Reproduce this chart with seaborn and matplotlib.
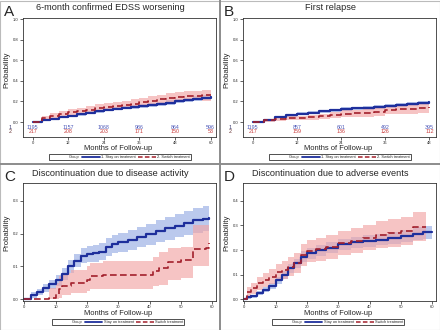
import numpy as np
import pandas as pd
import matplotlib
matplotlib.use("Agg")
import matplotlib.pyplot as plt
from matplotlib.lines import Line2D
import seaborn as sns

sns.set_style("white")
plt.rcParams['font.family'] = ['Liberation Sans', 'DejaVu Sans']

# ---------------- data ----------------
titles = ["6-month confirmed EDSS worsening", "First relapse",
          "Discontinuation due to disease activity", "Discontinuation due to adverse events"]
panel_letters = ["A", "B", "C", "D"]

# Panel A
t_a = [0, 3, 6, 9, 12, 15, 18, 21, 24, 27, 30, 33, 36, 39, 42, 45, 48, 51, 54, 57, 60]
a_stay = [0, .015, .03, .045, .062, .075, .09, .105, .118, .128, .138, .148, .158, .168, .178, .19, .203, .215, .228, .236, .24]
a_stay_lo = [0, .008, .021, .035, .051, .063, .077, .091, .104, .113, .122, .131, .140, .149, .158, .169, .181, .192, .204, .211, .214]
a_stay_hi = [0, .022, .039, .055, .073, .087, .103, .119, .132, .143, .154, .165, .176, .187, .198, .211, .225, .238, .252, .261, .266]
a_switch = [0, .035, .06, .08, .095, .105, .12, .135, .148, .158, .168, .18, .195, .208, .222, .232, .242, .25, .258, .26, .262]
a_switch_lo = [0, .012, .033, .05, .063, .072, .085, .099, .11, .119, .128, .139, .152, .164, .177, .186, .195, .202, .21, .208, .205]
a_switch_hi = [0, .058, .087, .11, .127, .138, .155, .171, .186, .197, .208, .221, .238, .252, .267, .278, .289, .298, .306, .312, .319]
a_risk_times = [0, 12, 24, 36, 48, 60]
a_risk_stay = ["1195", "1157", "1068", "986", "864", "596"]
a_risk_switch = ["217", "208", "203", "171", "150", "53"]

# Panel B
t_b = [0, 3, 6, 9, 12, 15, 18, 21, 24, 27, 30, 33, 36, 39, 42, 45, 48]
b_stay = [0, .02, .045, .065, .08, .092, .105, .115, .125, .132, .138, .145, .155, .165, .175, .185, .195]
b_stay_lo = [0, .012, .035, .053, .067, .078, .09, .099, .108, .114, .119, .125, .134, .143, .152, .161, .17]
b_stay_hi = [0, .028, .055, .077, .093, .106, .12, .131, .142, .15, .157, .165, .176, .187, .198, .209, .22]
b_switch = [0, .015, .03, .035, .04, .045, .055, .065, .08, .085, .09, .1, .12, .125, .13, .14, .145]
b_switch_lo = [0, .002, .012, .015, .018, .021, .028, .035, .047, .05, .053, .06, .076, .079, .082, .09, .093]
b_switch_hi = [0, .028, .048, .055, .062, .069, .082, .095, .113, .12, .127, .14, .164, .171, .178, .19, .197]
b_risk_times = [0, 12, 24, 36, 48]
b_risk_stay = ["1195", "857", "601", "492", "395"]
b_risk_switch = ["217", "159", "136", "126", "112"]

# Panel C
t_c = [0, 2, 4, 6, 8, 10, 12, 14, 16, 18, 20, 22, 24, 26, 28, 30, 33, 36, 39, 42, 45, 48, 51, 54, 57, 59]
c_stay = [0, .013, .022, .035, .046, .058, .078, .10, .118, .133, .138, .14, .145, .16, .168, .174, .18, .19, .198, .208, .216, .224, .232, .24, .245, .247]
c_stay_lo = [0, .005, .012, .023, .032, .042, .06, .08, .097, .11, .114, .115, .119, .133, .14, .145, .15, .159, .166, .175, .182, .189, .196, .203, .207, .208]
c_stay_hi = [0, .021, .032, .047, .06, .074, .096, .12, .139, .156, .162, .165, .171, .187, .196, .203, .21, .221, .23, .241, .25, .259, .268, .277, .283, .286]
t_c_sw = [0, 8, 10, 11, 12, 15, 20, 21, 25, 40, 41, 43, 46, 50, 54, 58, 59]
c_switch = [0, .005, .015, .03, .04, .05, .06, .07, .075, .075, .085, .095, .113, .12, .152, .155, .17]
c_switch_lo = [0, 0, 0, .005, .012, .018, .025, .03, .033, .033, .04, .045, .06, .065, .1, .1, .11]
c_switch_hi = [0, .035, .05, .07, .08, .09, .1, .112, .118, .118, .13, .145, .155, .16, .225, .225, .23]

# Panel D
t_d = [0, 1, 2, 4, 6, 8, 10, 12, 14, 16, 18, 20, 23, 26, 30, 34, 38, 42, 46, 50, 54, 57, 60]
d_stay = [0, .008, .013, .025, .038, .055, .078, .099, .126, .146, .173, .186, .198, .21, .224, .231, .236, .242, .248, .256, .266, .272, .274]
d_stay_lo = [0, .003, .007, .017, .028, .043, .064, .083, .108, .127, .152, .165, .177, .189, .202, .209, .213, .219, .224, .231, .24, .245, .246]
d_stay_hi = [0, .013, .019, .033, .048, .067, .092, .115, .144, .165, .194, .207, .219, .231, .246, .253, .259, .265, .272, .281, .292, .299, .302]
t_d_sw = [0, 1, 2, 4, 6, 8, 10, 12, 14, 16, 18, 20, 23, 26, 30, 34, 38, 42, 46, 50, 54, 58]
d_switch = [0, .031, .045, .065, .078, .092, .109, .119, .132, .148, .18, .197, .203, .212, .227, .238, .25, .262, .27, .277, .295, .295]
d_switch_lo = [0, .012, .022, .038, .048, .06, .074, .082, .093, .107, .137, .152, .157, .165, .178, .188, .198, .208, .214, .22, .235, .235]
d_switch_hi = [0, .05, .068, .092, .108, .124, .144, .156, .171, .189, .223, .242, .249, .259, .276, .288, .302, .316, .326, .334, .355, .355]

# ---------------- style ----------------
BLUE = "#1e2f9c"
RED = "#a3202c"
BLUE_BAND = "#9fb3e6"
RED_BAND = "#f2a5a5"
RISK_BLUE = "#4a56b8"
RISK_RED = "#c83a3a"

W, H = 440, 330
fig = plt.figure(figsize=(4.4, 3.3), dpi=100)


def px_axes(x0, y0, x1, y1):
    return fig.add_axes([x0 / W, 1 - y1 / H, (x1 - x0) / W, (y1 - y0) / H])


def draw_curves(ax, t1, s, slo, shi, t2, w, wlo, whi):
    ax.fill_between(t1, slo, shi, step="post", color=BLUE_BAND, alpha=0.7, lw=0)
    ax.fill_between(t2, wlo, whi, step="post", color=RED_BAND, alpha=0.65, lw=0)
    sns.lineplot(x=t1, y=s, ax=ax, color=BLUE, lw=1.6, drawstyle="steps-post", estimator=None)
    sns.lineplot(x=t2, y=w, ax=ax, color=RED, lw=1.2, drawstyle="steps-post", estimator=None,
                 dashes=False, linestyle=(0, (4, 2)))


def style_axes(ax, xticks, yticks, yfmt):
    for sp in ax.spines.values():
        sp.set_linewidth(0.6)
        sp.set_color("#333333")
    ax.set_xticks(xticks)
    ax.set_yticks(yticks)
    ax.set_yticklabels([yfmt.format(v) for v in yticks])
    ax.tick_params(axis="both", labelsize=3.0, length=2, width=0.5, pad=1.0,
                   direction="out", bottom=True, left=True)
    ax.set_xlabel("")
    ax.set_ylabel("")


def legend(ax, cx, cy, lab1, lab2):
    handles = [Line2D([], [], color="none"),
               Line2D([], [], color=BLUE, lw=1.3),
               Line2D([], [], color=RED, lw=1.1, linestyle=(0, (3, 1.5)))]
    leg = ax.legend(handles, ["Group", lab1, lab2], ncol=3, loc="center",
                    bbox_to_anchor=(cx / W, 1 - cy / H), bbox_transform=fig.transFigure,
                    fontsize=2.8, frameon=True, fancybox=False, edgecolor="black",
                    handlelength=4.5, handletextpad=0.4, columnspacing=0.6,
                    borderpad=0.25, borderaxespad=0)
    leg.get_frame().set_linewidth(0.6)


def panel_text(qx, qy, idx):
    fig.text((qx + 4) / W, 1 - (qy + 12) / H, panel_letters[idx], fontsize=11, va="center", ha="left")
    fig.text((qx + 110) / W, 1 - (qy + 8) / H, titles[idx], fontsize=6.6, va="center", ha="center")
    fig.text((qx + 7) / W, 1 - (qy + 70 if idx < 2 else qy + 68) / H, "Probability",
             fontsize=5.6, rotation=90, va="center", ha="center")
    fig.text((qx + 118) / W, 1 - (qy + 148.5) / H, "Months of Follow-up",
             fontsize=5.4, va="center", ha="center")


# ---------------- Panel A ----------------
axA = px_axes(23, 18, 216, 137)
draw_curves(axA, t_a, a_stay, a_stay_lo, a_stay_hi, t_a, a_switch, a_switch_lo, a_switch_hi)
axA.set_xlim(-3.27, 61.8)
axA.set_ylim(-0.146, 1.013)
style_axes(axA, [0, 12, 24, 36, 48, 60], [0, .2, .4, .6, .8, 1.0], "{:.1f}")
for tx, s1, s2 in zip(a_risk_times, a_risk_stay, a_risk_switch):
    axA.text(tx, -0.049, s1, color=RISK_BLUE, fontsize=3.8, ha="center", va="center")
    axA.text(tx, -0.097, s2, color=RISK_RED, fontsize=3.8, ha="center", va="center")
axA.text(-7.6, -0.049, "1", fontsize=3.8, ha="center", va="center", clip_on=False, color="#333366")
axA.text(-7.6, -0.097, "2", fontsize=3.8, ha="center", va="center", clip_on=False, color="#663333")
legend(axA, 120, 157, "1. Stay on treatment", "2. Switch treatment")
panel_text(0, 0, 0)

# ---------------- Panel B ----------------
axB = px_axes(243, 18, 436, 137)
draw_curves(axB, t_b, b_stay, b_stay_lo, b_stay_hi, t_b, b_switch, b_switch_lo, b_switch_hi)
axB.set_xlim(-2.64, 49.8)
axB.set_ylim(-0.146, 1.013)
style_axes(axB, [0, 12, 24, 36, 48], [0, .2, .4, .6, .8, 1.0], "{:.1f}")
for tx, s1, s2 in zip(b_risk_times, b_risk_stay, b_risk_switch):
    axB.text(tx, -0.049, s1, color=RISK_BLUE, fontsize=3.8, ha="center", va="center")
    axB.text(tx, -0.097, s2, color=RISK_RED, fontsize=3.8, ha="center", va="center")
axB.text(-6.2, -0.049, "1", fontsize=3.8, ha="center", va="center", clip_on=False, color="#333366")
axB.text(-6.2, -0.097, "2", fontsize=3.8, ha="center", va="center", clip_on=False, color="#663333")
legend(axB, 340, 157, "1. Stay on treatment", "2. Switch treatment")
panel_text(220, 0, 1)

# ---------------- Panel C ----------------
axC = px_axes(23, 183, 216, 301)
draw_curves(axC, t_c, c_stay, c_stay_lo, c_stay_hi, t_c_sw, c_switch, c_switch_lo, c_switch_hi)
axC.set_xlim(-0.4, 61.2)
axC.set_ylim(-0.005, 0.354)
style_axes(axC, [0, 10, 20, 30, 40, 50, 60], [0, .1, .2, .3], "{:.1f}")
legend(axC, 118, 322, "Stay on treatment", "Switch treatment")
panel_text(0, 165, 2)

# ---------------- Panel D ----------------
axD = px_axes(243, 183, 436, 301)
draw_curves(axD, t_d, d_stay, d_stay_lo, d_stay_hi, t_d_sw, d_switch, d_switch_lo, d_switch_hi)
axD.set_xlim(-0.4, 61.2)
axD.set_ylim(-0.007, 0.472)
style_axes(axD, [0, 10, 20, 30, 40, 50, 60], [0, .1, .2, .3, .4], "{:.1f}")
legend(axD, 338, 322, "Stay on treatment", "Switch treatment")
panel_text(220, 165, 3)

# ---------------- dividers ----------------
fig.add_artist(Line2D([0.5, 0.5], [0, 1], transform=fig.transFigure, color="#8c8c8c", lw=1.4))
fig.add_artist(Line2D([0, 1], [1 - 164 / H, 1 - 164 / H], transform=fig.transFigure, color="#8c8c8c", lw=1.4))
fig.add_artist(plt.Rectangle((0.001, 0.001), 0.998, 0.997, transform=fig.transFigure,
                             fill=False, edgecolor="#bbbbbb", lw=0.8))

fig.savefig("out.png", dpi=100)
